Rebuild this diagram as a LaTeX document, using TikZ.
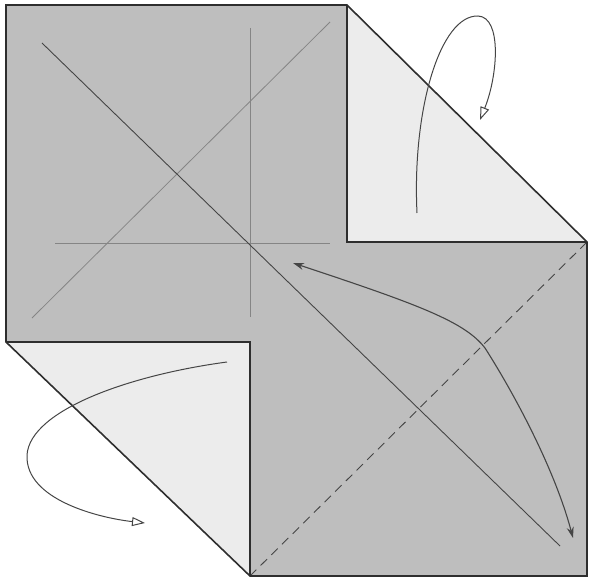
\documentclass[tikz,border=0pt]{standalone}
\usetikzlibrary{arrows.meta}
\definecolor{paper}{HTML}{BEBEBE}
\definecolor{flap}{HTML}{ECECEC}
\definecolor{edge}{HTML}{2E2E2E}
\definecolor{crease}{HTML}{454545}
\definecolor{faint}{HTML}{858585}
\tikzset{
  border/.style={draw=edge, line width=1.6pt, line join=miter},
  valley/.style={draw=crease, line width=0.9pt},
  mark crease/.style={draw=faint, line width=0.8pt},
  dashcrease/.style={draw=crease, line width=0.9pt, dash pattern=on 9pt off 6pt},
  foldarrow/.style={draw=crease, line width=1.1pt, {Stealth[length=11pt,width=7pt]}-{Stealth[length=11pt,width=7pt]}},
  turnarrow/.style={draw=crease, line width=1pt, -{Triangle[open,length=13pt,width=9pt,line width=1pt]}},
}
\begin{document}
\begin{tikzpicture}[x=1pt,y=-1pt]
\useasboundingbox (0,0) rectangle (589,580);
% corners
\coordinate (A) at (6,5);
\coordinate (B) at (347,5);
\coordinate (C) at (587,242);
\coordinate (D) at (587,576);
\coordinate (E) at (250,576);
\coordinate (F) at (6,342);
\coordinate (G) at (347,242);
\coordinate (H) at (250,342);
\coordinate (O) at (250,242);
% fills
\fill[paper] (A) -- (B) -- (G) -- (O) -- (H) -- (F) -- cycle;
\fill[paper] (O) rectangle (D);
\fill[flap] (B) -- (G) -- (C) -- cycle;
\fill[flap] (F) -- (H) -- (E) -- cycle;
% creases
\draw[mark crease] (250,28) -- (250,317);
\draw[mark crease] (55,243) -- (330,243);
\draw[mark crease] (32,318) -- (330,22);
\draw[valley] (42,43) -- (560,546);
\draw[dashcrease] (E) -- (C);
% outline
\draw[border] (A) -- (B) -- (C) -- (D) -- (E) -- (F) -- cycle;
\draw[border] (B) -- (G) -- (C);
\draw[border] (F) -- (H) -- (E);
% arrows
\draw[foldarrow] (293,263) .. controls (420,305) and (465,322) .. (485,348) .. controls (515,395) and (555,470) .. (573,538);
\draw[turnarrow] (417,213) .. controls (412,110) and (440,15) .. (478,16) .. controls (502,17) and (498,75) .. (480,120);
\draw[turnarrow] (227,362) .. controls (130,375) and (30,410) .. (27,455) .. controls (25,500) and (100,518) .. (145,523);
\end{tikzpicture}
\end{document}
